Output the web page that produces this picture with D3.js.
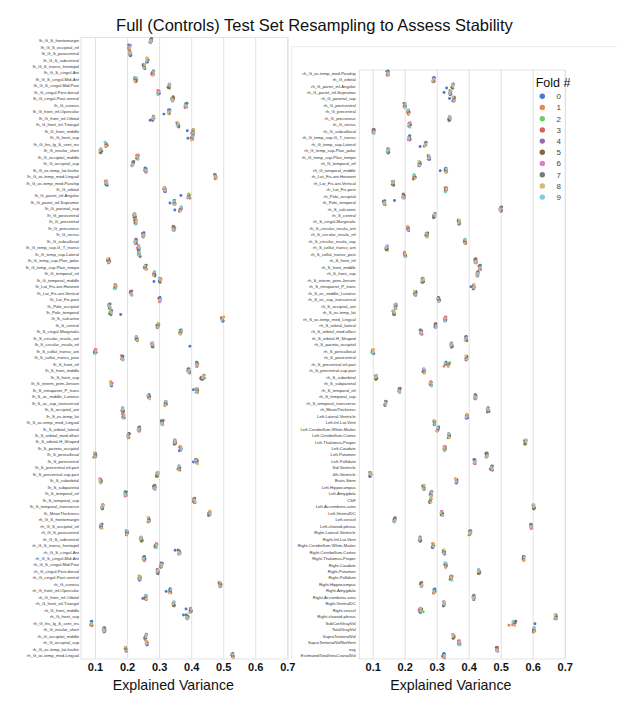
<!DOCTYPE html>
<html><head><meta charset="utf-8">
<script src="https://cdn.jsdelivr.net/npm/d3@7"></script>
<style>
body{margin:0;background:#fff}
svg{display:block}
text{font-family:"Liberation Sans",Arial,Helvetica,sans-serif}
</style>
</head><body>
<svg id="chart" width="617" height="708"></svg>
<script>
// ---------------- DATA ----------------
const title = "Full (Controls) Test Set Resampling to Assess Stability";
const xLabel = "Explained Variance";
const xTicks = [0.1, 0.2, 0.3, 0.4, 0.5, 0.6, 0.7];
const foldNames = ["0","1","2","3","4","5","6","7","8","9"];

const leftLabels = ["lh_G_S_frontomargin","lh_G_S_occipital_inf","lh_G_S_paracentral","lh_G_S_subcentral","lh_G_S_transv_frontopol","lh_G_S_cingul-Ant","lh_G_S_cingul-Mid-Ant","lh_G_S_cingul-Mid-Post","lh_G_cingul-Post-dorsal","lh_G_cingul-Post-ventral","lh_G_cuneus","lh_G_front_inf-Opercular","lh_G_front_inf-Orbital","lh_G_front_inf-Triangul","lh_G_front_middle","lh_G_front_sup","lh_G_Ins_lg_S_cent_ins","lh_G_insular_short","lh_G_occipital_middle","lh_G_occipital_sup","lh_G_oc-temp_lat-fusifor","lh_G_oc-temp_med-Lingual","lh_G_oc-temp_med-Parahip","lh_G_orbital","lh_G_pariet_inf-Angular","lh_G_pariet_inf-Supramar","lh_G_parietal_sup","lh_G_postcentral","lh_G_precentral","lh_G_precuneus","lh_G_rectus","lh_G_subcallosal","lh_G_temp_sup-G_T_transv","lh_G_temp_sup-Lateral","lh_G_temp_sup-Plan_polar","lh_G_temp_sup-Plan_tempo","lh_G_temporal_inf","lh_G_temporal_middle","lh_Lat_Fis-ant-Horizont","lh_Lat_Fis-ant-Vertical","lh_Lat_Fis-post","lh_Pole_occipital","lh_Pole_temporal","lh_S_calcarine","lh_S_central","lh_S_cingul-Marginalis","lh_S_circular_insula_ant","lh_S_circular_insula_inf","lh_S_collat_transv_ant","lh_S_collat_transv_post","lh_S_front_inf","lh_S_front_middle","lh_S_front_sup","lh_S_interm_prim-Jensen","lh_S_intrapariet_P_trans","lh_S_oc_middle_Lunatus","lh_S_oc_sup_transversal","lh_S_occipital_ant","lh_S_oc-temp_lat","lh_S_oc-temp_med_Lingual","lh_S_orbital_lateral","lh_S_orbital_med-olfact","lh_S_orbital-H_Shaped","lh_S_parieto_occipital","lh_S_pericallosal","lh_S_postcentral","lh_S_precentral-inf-part","lh_S_precentral-sup-part","lh_S_suborbital","lh_S_subparietal","lh_S_temporal_inf","lh_S_temporal_sup","lh_S_temporal_transverse","lh_MeanThickness","rh_G_S_frontomargin","rh_G_S_occipital_inf","rh_G_S_paracentral","rh_G_S_subcentral","rh_G_S_transv_frontopol","rh_G_S_cingul-Ant","rh_G_S_cingul-Mid-Ant","rh_G_S_cingul-Mid-Post","rh_G_cingul-Post-dorsal","rh_G_cingul-Post-ventral","rh_G_cuneus","rh_G_front_inf-Opercular","rh_G_front_inf-Orbital","rh_G_front_inf-Triangul","rh_G_front_middle","rh_G_front_sup","rh_G_Ins_lg_S_cent_ins","rh_G_insular_short","rh_G_occipital_middle","rh_G_occipital_sup","rh_G_oc-temp_lat-fusifor","rh_G_oc-temp_med-Lingual"];

// median explained variance per row (left panel)
const leftCenters = [
0.274,0.207,0.209,0.263,0.253,0.280,0.226,0.331,0.298,0.342,0.383,0.331,
0.281,0.359,0.405,0.403,0.134,0.118,0.232,0.218,0.258,0.475,0.135,0.317,
0.392,0.347,0.367,0.223,0.226,0.345,0.250,0.227,0.236,0.238,0.142,0.257,
0.284,0.303,0.163,0.212,0.302,0.145,0.149,0.498,0.296,0.367,0.229,0.279,
0.101,0.185,0.418,0.392,0.436,0.150,0.417,0.268,0.320,0.186,0.188,0.310,
0.237,0.204,0.349,0.366,0.100,0.417,0.362,0.294,0.117,0.285,0.195,0.409,
0.123,0.457,0.267,0.119,0.199,0.244,0.290,0.362,0.253,0.307,0.295,0.239,
0.490,0.334,0.258,0.345,0.398,0.387,0.088,0.129,0.258,0.261,0.196,0.529];

// per-fold deviation from the row value, in thousandths (left panel)
const leftFold0 = [2,-1,0,3,-2,1,0,-3,2,1,4,-16, -9,1,-17,-13,2,-1,3,0,-2,1,0,2, -24,-13,-18,1,-2,0,3,-1,2,0,-3,1, 0,-19,2,-1,1,0,31,-2,3,1,-1,117, 0,2,-1,3,-2,1,-10,0,2,-1,1,-3, 2,0,-1,3,1,-10,2,-2,0,1,-1,3, 0,-2,1,2,-1,0,3,-12,1,-2,0,2, 1,-12,-9,0,-14,-11,2,-1,0,1,-2,3];
const leftFold1 = [-3,2,1,-1,3,-2,4,1,-3,2,0,3, 2,-4,3,1,-1,2,0,-2,3,1,-3,0, 4,2,1,-3,0,2,-1,3,1,-2,0,4, -1,3,-2,1,0,-3,2,4,-1,0,3,-2, 1,-3,2,0,4,-1,3,2,-2,1,0,-1, -2,3,1,0,-4,2,1,3,-1,0,2,-3, 3,1,-2,0,2,-3,1,4,-1,2,0,-2, 0,3,1,-2,2,4,-1,0,3,-3,1,2];
const leftFold2 = [1,-3,2,0,-1,3,-2,2,0,-4,1,-1, -2,3,0,2,-3,1,2,-1,0,3,-2,1, 3,-1,2,-2,1,4,0,-3,2,1,-1,0, 2,1,-3,0,2,-1,-4,1,3,-2,0,2, -1,0,3,-2,6,2,-3,1,0,-1,4,1, 0,-2,3,1,-1,2,0,-3,2,4,-1,1, -3,2,0,1,-2,3,-1,0,2,-4,1,3, 2,-1,0,3,-2,1,2,-3,0,1,-1,-2];
const leftFold3 = [-1,0,-2,2,1,-3,3,0,-1,2,-2,1, 3,0,1,-2,4,-1,-2,3,1,0,2,-3, -1,3,0,2,-2,-1,1,2,-3,0,4,-1, -2,0,1,3,-1,2,1,-2,0,-3,2,1, 2,-2,0,1,-5,3,1,-1,2,0,-2,3, 1,2,-2,0,3,-1,-3,1,0,2,-1,0, 2,-1,3,-2,0,1,2,-3,1,0,3,-1, -1,2,-3,1,0,-2,3,1,-1,2,0,1];
const leftFold4 = [0,3,-1,-2,2,0,-3,1,3,-1,2,-2, 1,2,-3,0,1,3,-1,-2,2,0,1,3, -2,0,3,-1,2,1,-2,0,-1,3,1,-3, 1,-2,0,2,-3,1,3,0,-2,1,-1,2, 3,1,-1,-2,4,2,-1,3,1,-2,2,0, -1,1,0,-3,2,1,3,-2,1,-1,0,2, 1,-3,2,0,-1,2,0,1,-2,3,-1,0, 2,0,-2,1,3,-1,0,-2,2,1,3,-1];
const leftFold5 = [2,1,3,0,-3,2,1,-1,0,3,-2,0, -1,-2,2,3,0,-2,1,1,-3,2,0,1, 0,1,-3,2,1,-2,3,1,0,-1,2,3, 3,-1,2,-2,1,0,-2,-3,1,2,3,0, -2,1,1,3,-6,-1,2,0,-2,3,1,-2, 3,0,2,-1,1,-3,2,0,3,-2,1,-1, 0,2,1,3,-1,0,-2,2,3,1,-1,2, -3,1,2,0,-1,3,1,2,-2,0,-1,1];
const leftFold6 = [-2,0,1,2,1,3,-1,2,-2,0,3,-1, 0,1,-2,2,-1,0,3,-3,1,2,-1,2, 1,-2,1,0,3,2,-1,2,1,-3,0,-2, 0,2,-1,3,1,-2,0,-1,2,0,1,-3, 0,2,-1,-3,2,1,0,2,3,-1,-2,1, 2,-1,3,2,0,0,1,-1,-2,3,2,1, -1,0,2,-1,3,-2,1,-1,0,2,2,-3, 1,-2,3,2,0,1,-2,3,1,-1,2,0];
const leftFold7 = [3,-2,2,1,0,-1,2,-2,1,3,0,2, -1,2,1,-1,3,0,-2,2,-1,-2,3,0, 1,0,-2,3,-1,2,0,1,-2,2,-3,1, 3,-2,1,-1,0,2,1,2,-3,1,0,-1, -3,2,0,1,-1,0,3,-2,1,2,-1,0, 1,3,-2,1,0,2,-1,0,1,-2,3,2, 0,-1,1,-2,2,3,-3,0,1,-1,2,1, 3,0,-1,2,1,-2,0,1,-3,2,1,-2];
const leftFold8 = [-1,1,-2,0,2,1,-2,3,0,-1,1,-3, 2,0,3,-2,1,-3,0,-1,2,3,1,-1, 0,2,-1,1,3,-1,2,-3,0,1,-2,2, -2,1,3,0,-1,3,-2,2,1,-1,2,0, 1,-1,2,0,3,-2,1,2,-1,0,3,-1, -3,0,1,2,-2,3,0,2,-1,1,0,3, 2,1,-2,3,0,-1,2,0,-3,1,2,0, 1,-1,2,-2,3,0,1,-1,2,0,-2,3];
const leftFold9 = [1,2,0,-3,-1,2,3,0,-2,1,-1,2, 0,-3,1,2,-2,1,2,0,-1,-2,2,1, -2,1,3,0,2,-2,1,-1,3,0,1,-1, 2,-3,0,1,3,-1,2,-2,0,3,-1,1, 0,3,-2,2,-1,1,0,-3,2,1,0,-2, 1,-2,0,3,1,-2,-1,3,0,2,-3,0, -2,3,1,-1,2,0,1,3,-1,0,-2,2, 0,3,-1,1,-2,2,0,-3,1,-1,3,0];

const rightLabels = ["rh_G_oc-temp_med-Parahip","rh_G_orbital","rh_G_pariet_inf-Angular","rh_G_pariet_inf-Supramar","rh_G_parietal_sup","rh_G_postcentral","rh_G_precentral","rh_G_precuneus","rh_G_rectus","rh_G_subcallosal","rh_G_temp_sup-G_T_transv","rh_G_temp_sup-Lateral","rh_G_temp_sup-Plan_polar","rh_G_temp_sup-Plan_tempo","rh_G_temporal_inf","rh_G_temporal_middle","rh_Lat_Fis-ant-Horizont","rh_Lat_Fis-ant-Vertical","rh_Lat_Fis-post","rh_Pole_occipital","rh_Pole_temporal","rh_S_calcarine","rh_S_central","rh_S_cingul-Marginalis","rh_S_circular_insula_ant","rh_S_circular_insula_inf","rh_S_circular_insula_sup","rh_S_collat_transv_ant","rh_S_collat_transv_post","rh_S_front_inf","rh_S_front_middle","rh_S_front_sup","rh_S_interm_prim-Jensen","rh_S_intrapariet_P_trans","rh_S_oc_middle_Lunatus","rh_S_oc_sup_transversal","rh_S_occipital_ant","rh_S_oc-temp_lat","rh_S_oc-temp_med_Lingual","rh_S_orbital_lateral","rh_S_orbital_med-olfact","rh_S_orbital-H_Shaped","rh_S_parieto_occipital","rh_S_pericallosal","rh_S_postcentral","rh_S_precentral-inf-part","rh_S_precentral-sup-part","rh_S_suborbital","rh_S_subparietal","rh_S_temporal_inf","rh_S_temporal_sup","rh_S_temporal_transverse","rh_MeanThickness","Left-Lateral-Ventricle","Left-Inf-Lat-Vent","Left-Cerebellum-White-Matter","Left-Cerebellum-Cortex","Left-Thalamus-Proper","Left-Caudate","Left-Putamen","Left-Pallidum","3rd-Ventricle","4th-Ventricle","Brain-Stem","Left-Hippocampus","Left-Amygdala","CSF","Left-Accumbens-area","Left-VentralDC","Left-vessel","Left-choroid-plexus","Right-Lateral-Ventricle","Right-Inf-Lat-Vent","Right-Cerebellum-White-Matter","Right-Cerebellum-Cortex","Right-Thalamus-Proper","Right-Caudate","Right-Putamen","Right-Pallidum","Right-Hippocampus","Right-Amygdala","Right-Accumbens-area","Right-VentralDC","Right-vessel","Right-choroid-plexus","SubCortGrayVol","TotalGrayVol","SupraTentorialVol","SupraTentorialVolNotVent","avg","EstimatedTotalIntraCranialVol"];

const rightCenters = [
0.147,0.290,0.349,0.342,0.352,0.200,0.211,0.340,0.215,0.102,0.214,0.264,
0.148,0.275,0.246,0.328,0.230,0.163,0.328,0.196,0.136,0.500,0.292,0.369,
0.210,0.269,0.388,0.144,0.200,0.421,0.434,0.427,0.256,0.415,0.233,0.306,
0.171,0.165,0.326,0.296,0.251,0.391,0.346,0.100,0.392,0.333,0.260,0.110,
0.281,0.183,0.421,0.139,0.460,0.394,0.292,0.303,0.338,0.577,0.324,0.456,
0.418,0.471,0.092,0.361,0.258,0.282,0.280,0.603,0.316,0.168,0.594,0.404,
0.247,0.288,0.322,0.571,0.327,0.432,0.345,0.251,0.292,0.415,0.322,0.247,
0.671,0.535,0.603,0.352,0.370,0.488,0.322];

const rightFold0 = [1,-2,-18,-19,-12,2,0,1,-1,3,2,-16, 0,2,-1,-17,1,-2,3,0,32,1,-1,2, 0,-3,1,2,-1,0,2,1,-2,-8,0,3, -1,2,0,1,-2,3,0,-1,2,1,-3,0, 2,1,-1,0,3,-2,1,0,2,-1,1,-2, 0,3,-1,2,1,-2,0,1,-1,2,0,-3, 1,2,0,-1,3,1,-2,0,2,1,-1,0, 2,72,-1,1,0,-2,1];
const rightFold1 = [-2,3,1,-1,2,0,-3,2,1,-1,3,0, 2,-1,0,3,-2,1,2,-3,0,2,1,-1, 3,0,-2,1,2,-1,0,3,-2,1,2,0, -1,2,3,0,-2,1,-1,2,0,-10,3,1, 0,-2,1,3,-1,0,2,-1,3,1,-2,2, -1,0,2,-3,1,2,0,-1,3,0,2,-2, 1,-1,3,0,2,-2,1,3,0,-1,2,1, 3,-9,0,2,-1,1,-2];
const rightFold2 = [1,0,-2,3,-1,2,1,-2,0,3,-1,2, -3,1,2,0,-1,3,-2,1,2,-1,0,3, 1,-2,0,2,3,-1,1,0,-2,2,-1,1, 2,0,-1,3,1,-2,0,-3,2,8,-1,0, 3,1,-2,0,2,-1,3,1,0,-2,1,3, 0,2,-1,1,-3,0,2,1,-1,3,0,2, -2,1,0,3,-1,2,0,-2,1,3,2,11, 0,4,2,-1,3,0,-2];
const rightFold3 = [-1,2,0,1,3,-2,0,2,-1,0,2,-3, 2,0,3,-1,1,2,-2,0,3,1,-2,0, -2,1,3,0,-1,2,3,-1,0,1,-3,2, 0,-1,2,1,3,0,-2,1,-1,3,0,-2, 1,3,0,-1,-2,2,1,0,2,-3,3,1, 2,-1,3,0,2,1,-1,-2,0,2,1,-1, 0,3,-2,1,0,-1,3,2,-2,0,1,-2, 1,7,3,0,-2,1,2];
const rightFold4 = [2,-1,3,0,-2,1,2,-3,1,-1,0,2, -1,3,-2,2,0,-1,1,2,-3,0,3,1, 2,0,-1,-3,1,3,-2,2,1,0,-1,2, 3,1,0,-2,2,-1,1,3,0,5,-2,1, -1,0,2,3,1,-2,0,2,-1,1,3,0, 2,1,-2,0,3,-1,1,0,2,-2,-1,3, 1,0,2,-1,-2,3,0,1,-1,2,0,3, -2,10,1,3,0,-1,2];
const rightFold5 = [0,1,-1,2,3,-2,1,0,3,-1,2,1, 2,-2,0,1,-3,2,0,3,-1,2,1,-2, -1,3,2,-2,0,1,-1,2,3,0,2,-1, 1,3,-2,0,1,2,3,-1,2,-4,1,0, -2,2,1,0,3,1,-1,3,-2,0,2,-1, 1,-3,0,2,1,3,-2,0,1,-1,2,0, 3,2,-1,0,1,-2,2,-1,3,1,0,6, 2,12,-1,0,2,1,-3];
const rightFold6 = [3,0,2,-2,1,3,-1,0,2,1,-3,0, 1,2,-1,3,0,-2,1,2,0,-3,2,1, -2,0,1,3,-1,2,0,-2,1,3,0,1, 2,-2,3,1,0,-1,2,0,3,4,-1,2, 0,1,-3,2,1,0,2,-2,1,3,-1,0, -1,2,1,3,0,-2,3,1,-1,0,3,1, 2,-1,0,2,3,0,-1,2,1,-2,3,-2, 1,2,0,-2,1,3,0];
const rightFold7 = [-3,2,1,0,2,-1,3,1,-2,0,1,3, 0,-1,2,-2,3,1,0,-1,2,3,-2,0, 2,1,-1,0,3,-2,2,1,0,-1,3,-2, 1,0,2,-1,-3,2,0,3,1,-6,0,3, 2,-1,0,1,-2,3,0,1,2,-1,0,2, -2,3,0,1,2,-1,0,3,-2,1,2,0, 1,-2,3,0,2,1,-3,0,2,1,-1,1, 3,6,0,1,-2,2,-1];
const rightFold8 = [1,-3,0,2,-1,0,2,3,-2,1,0,-1, 3,1,-2,0,2,-1,3,0,1,-2,0,2, -1,2,0,-3,2,1,-1,0,3,2,-2,1, 0,2,-1,3,2,-2,1,0,-1,3,2,-1, -1,0,3,2,-2,1,0,-3,1,2,0,3, 0,2,-1,-2,3,1,2,0,-3,2,1,-2, -1,3,1,2,0,-2,1,3,0,-1,2,3, -1,9,2,-1,1,0,3];
const rightFold9 = [0,1,2,-1,3,1,-2,0,1,2,-1,3, -2,0,1,2,-1,3,0,-2,1,0,3,-1, 3,-1,2,1,0,-2,3,2,-1,0,1,-3, -2,1,0,2,-1,3,-2,1,2,-7,1,2, 3,2,-1,0,1,-2,3,0,-1,2,1,-3, 2,0,3,-1,0,2,1,-2,3,1,0,2, -1,2,0,3,1,-1,2,0,-2,3,1,4, 0,3,1,-2,0,2,1];

// ---------------- DRAW ----------------
const palette = ["#4878d0","#ee854a","#6acc64","#d65f5f","#956cb4","#8c613c","#dc7ec0","#797979","#d5bb67","#82c6e2"];
const color = d3.scaleOrdinal().domain(foldNames).range(palette);
// visual strip jitter pattern (fraction of row height), not data
const jitterPattern = [-0.34,0.20,-0.09,0.33,-0.22,0.06,0.28,-0.29,0.14,-0.03];

const leftFolds = [leftFold0,leftFold1,leftFold2,leftFold3,leftFold4,leftFold5,leftFold6,leftFold7,leftFold8,leftFold9];
const rightFolds = [rightFold0,rightFold1,rightFold2,rightFold3,rightFold4,rightFold5,rightFold6,rightFold7,rightFold8,rightFold9];
leftFolds.forEach((a,k)=>{ if(a.length!==leftLabels.length) throw new Error("leftFold"+k+" len "+a.length); });
rightFolds.forEach((a,k)=>{ if(a.length!==rightLabels.length) throw new Error("rightFold"+k+" len "+a.length); });
if (leftCenters.length!==leftLabels.length) throw new Error("leftCenters "+leftCenters.length);
if (rightCenters.length!==rightLabels.length) throw new Error("rightCenters "+rightCenters.length);

const svg = d3.select("#chart");
svg.append("rect").attr("width",617).attr("height",708).attr("fill","#fff");

// faint border of the right image
svg.append("path").attr("d","M291.7,659V46.7H617").attr("fill","none").attr("stroke","#e6e6e6").attr("stroke-width",0.8);

svg.append("text").attr("x",314.5).attr("y",30.5).attr("text-anchor","middle")
  .attr("font-size",16.5).attr("fill","#111").text(title);

function panel(cfg){
  const x = d3.scaleLinear().domain([0.1,0.7]).range([cfg.x01,cfg.x07]);
  const y = d3.scaleBand().domain(cfg.labels).range([cfg.top,cfg.bottom]);
  const g = svg.append("g");
  const h = cfg.bottom - cfg.top;

  // grid + tick labels
  const xa = g.append("g").attr("transform",`translate(0,${cfg.bottom})`)
    .call(d3.axisBottom(x).tickValues(xTicks).tickFormat(d3.format(".1f")).tickSize(-h).tickPadding(4));
  xa.select(".domain").remove();
  xa.selectAll(".tick line").attr("stroke","#e2e2e2").attr("stroke-width",1);
  xa.selectAll(".tick text").attr("y",11.7).attr("dy",null).attr("font-size",11).attr("font-weight","bold")
    .attr("fill","#111").attr("font-family","'Liberation Sans',Arial,sans-serif");

  // frame
  g.append("rect").attr("x",cfg.left).attr("y",cfg.top).attr("width",cfg.right-cfg.left).attr("height",h)
    .attr("fill","none").attr("stroke","#dcdcdc").attr("stroke-width",0.8);

  // y labels
  const ya = g.append("g").attr("transform",`translate(${cfg.labelX},0)`)
    .call(d3.axisLeft(y).tickSize(0).tickPadding(0));
  ya.select(".domain").remove();
  ya.selectAll(".tick text").attr("font-size",4.2).attr("fill","#333")
    .attr("font-family","'Liberation Sans',Arial,sans-serif");

  // points
  const bw = y.bandwidth();
  const pts = [];
  cfg.labels.forEach((lab,i)=>{
    cfg.folds.forEach((arr,k)=>{
      pts.push({lab, k, v: cfg.centers[i] + arr[i]/1000, j: jitterPattern[(k + 3*i) % 10]});
    });
  });
  g.append("g").selectAll("circle").data(pts).join("circle")
    .attr("cx",d=>x(d.v))
    .attr("cy",d=>y(d.lab)+bw/2 + d.j*bw)
    .attr("r",1.45)
    .attr("fill",d=>color(foldNames[d.k]));

  svg.append("text").attr("x",cfg.xLabelX).attr("y",690).attr("text-anchor","middle")
    .attr("font-size",14.2).attr("fill","#111").text(xLabel);
}

panel({labels:leftLabels, centers:leftCenters, folds:leftFolds,
  x01:95, x07:287.3, left:81, right:288, top:37.5, bottom:659, labelX:79, xLabelX:173.3});
panel({labels:rightLabels, centers:rightCenters, folds:rightFolds,
  x01:372.7, x07:564.7, left:359.3, right:565.5, top:70, bottom:659, labelX:355.7, xLabelX:450.8});

// legend
const lg = svg.append("g");
lg.append("text").attr("x",535.7).attr("y",86.7).attr("font-size",12.5).attr("fill","#111").text("Fold #");
foldNames.forEach((f,k)=>{
  const yy = 96.3 + k*11.2;
  lg.append("circle").attr("cx",542.3).attr("cy",yy).attr("r",2.7).attr("fill",color(f));
  lg.append("text").attr("x",556.5).attr("y",yy).attr("dy","0.35em").attr("font-size",8).attr("fill","#444").text(f);
});
</script>
</body></html>
